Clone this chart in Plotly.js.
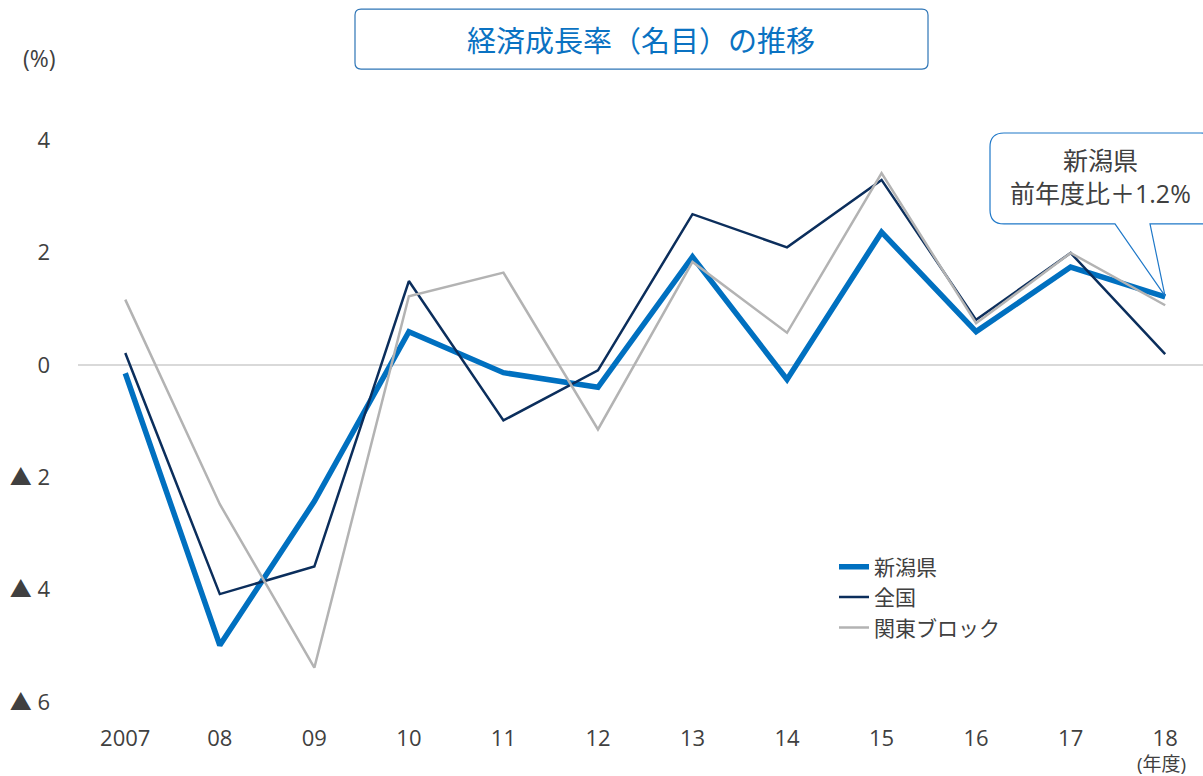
<!DOCTYPE html>
<html><head><meta charset="utf-8">
<script src="https://cdn.plot.ly/plotly-3.0.1.min.js"></script>
<style>body{margin:0;background:#fff}#c{width:1203px;height:776px}</style>
</head><body><div id="c"></div>
<script>
const years = ["2007","08","09","10","11","12","13","14","15","16","17","18"];
const niigata = [-0.15,-4.99,-2.43,0.59,-0.14,-0.40,1.92,-0.26,2.36,0.59,1.74,1.21];
const zenkoku = [0.21,-4.08,-3.59,1.49,-0.99,-0.10,2.68,2.09,3.29,0.80,1.99,0.19];
const kanto = [1.16,-2.48,-5.39,1.22,1.64,-1.15,1.83,0.57,3.41,0.74,1.99,1.06];
const seriesNames = ["新潟県","全国","関東ブロック"];
const yTickVals = [-6,-4,-2,0,2,4];
const yTickText = ["▲ 6","▲ 4","▲ 2","0","2","4"];
const titleText = "経済成長率（名目）の推移";
const calloutText = "新潟県<br>前年度比＋1.2%";

const W=1203,H=776,L=78,R=0,T=140,B=73.5;
const pw=W-L-R, ph=H-T-B;
const px=x=>(x-L)/pw, py=y=>(H-B-y)/ph;
function rr(x0,y0,x1,y1,r){
  const P=(x,y)=>px(x).toFixed(5)+","+py(y).toFixed(5);
  return "M"+P(x0+r,y0)+" L"+P(x1-r,y0)+" Q"+P(x1,y0)+" "+P(x1,y0+r)+
    " L"+P(x1,y1-r)+" Q"+P(x1,y1)+" "+P(x1-r,y1)+" L"+P(x0+r,y1)+" Q"+P(x0,y1)+" "+P(x0,y1-r)+
    " L"+P(x0,y0+r)+" Q"+P(x0,y0)+" "+P(x0+r,y0)+" Z";
}
function bubble(x0,y0,x1,y1,r,ta,tb,tx,ty){
  const P=(x,y)=>px(x).toFixed(5)+","+py(y).toFixed(5);
  return "M"+P(x0+r,y0)+" L"+P(x1-r,y0)+" Q"+P(x1,y0)+" "+P(x1,y0+r)+
    " L"+P(x1,y1-r)+" Q"+P(x1,y1)+" "+P(x1-r,y1)+" L"+P(tb,y1)+" L"+P(tx,ty)+" L"+P(ta,y1)+
    " L"+P(x0+r,y1)+" Q"+P(x0,y1)+" "+P(x0,y1-r)+
    " L"+P(x0,y0+r)+" Q"+P(x0,y0)+" "+P(x0+r,y0)+" Z";
}
const FF="'Open Sans','Noto Sans CJK JP',sans-serif";
const data=[
 {x:years,y:niigata,name:seriesNames[0],mode:"lines",line:{color:"#0070C0",width:5.5}},
 {x:years,y:zenkoku,name:seriesNames[1],mode:"lines",line:{color:"#0B2E5C",width:2.5}},
 {x:years,y:kanto,name:seriesNames[2],mode:"lines",line:{color:"#B3B3B3",width:2.5}}
];
const layout={
 width:W,height:H,margin:{l:L,r:R,t:T,b:B},
 paper_bgcolor:"#fff",plot_bgcolor:"#fff",
 font:{family:FF,size:22,color:"#404040"},
 showlegend:true,
 legend:{x:px(834),y:py(547),xanchor:"left",yanchor:"top",bgcolor:"rgba(0,0,0,0)",
   font:{family:FF,size:21,color:"#404040"},tracegroupgap:0,itemwidth:30},
 xaxis:{type:"category",range:[-0.5,11.4],showgrid:false,zeroline:false,showline:false,
   ticks:"",ticklabelstandoff:21,tickfont:{family:FF,size:22,color:"#404040"},fixedrange:true},
 yaxis:{range:[-6,4],tickvals:yTickVals,ticktext:yTickText,showgrid:false,
   zeroline:true,zerolinecolor:"#D9D9D9",zerolinewidth:2,showline:false,ticks:"",
   ticklabelstandoff:27,tickfont:{family:FF,size:22,color:"#404040"},fixedrange:true},
 shapes:[
  {type:"path",xref:"paper",yref:"paper",path:rr(355,9,928,69,6),line:{color:"#2E75B6",width:1.2},fillcolor:"#fff",layer:"above"},
  {type:"path",xref:"paper",yref:"paper",path:bubble(990,133,1215,224,14,1115,1150,1165,296),line:{color:"#1F78C8",width:1.2},fillcolor:"rgba(255,255,255,1)",layer:"above"}
 ],
 annotations:[
  {xref:"paper",yref:"paper",x:px(641),y:py(39),text:titleText,showarrow:false,xanchor:"center",yanchor:"middle",
   font:{family:"'Noto Sans CJK JP',sans-serif",size:29,color:"#0A72C2"}},
  {xref:"paper",yref:"paper",x:px(39),y:py(58),text:"(%)",showarrow:false,xanchor:"center",yanchor:"middle",
   font:{family:FF,size:23,color:"#404040"}},
  {xref:"paper",yref:"paper",x:px(1161),y:py(765),text:"(年度)",showarrow:false,xanchor:"center",yanchor:"middle",
   font:{family:FF,size:19,color:"#404040"}},
  {xref:"paper",yref:"paper",x:px(1100),y:py(177),text:calloutText,showarrow:false,xanchor:"center",yanchor:"middle",
   font:{family:FF,size:25,color:"#404040"}}
 ]
};
Plotly.newPlot("c",data,layout,{displayModeBar:false,staticPlot:true});
</script></body></html>
